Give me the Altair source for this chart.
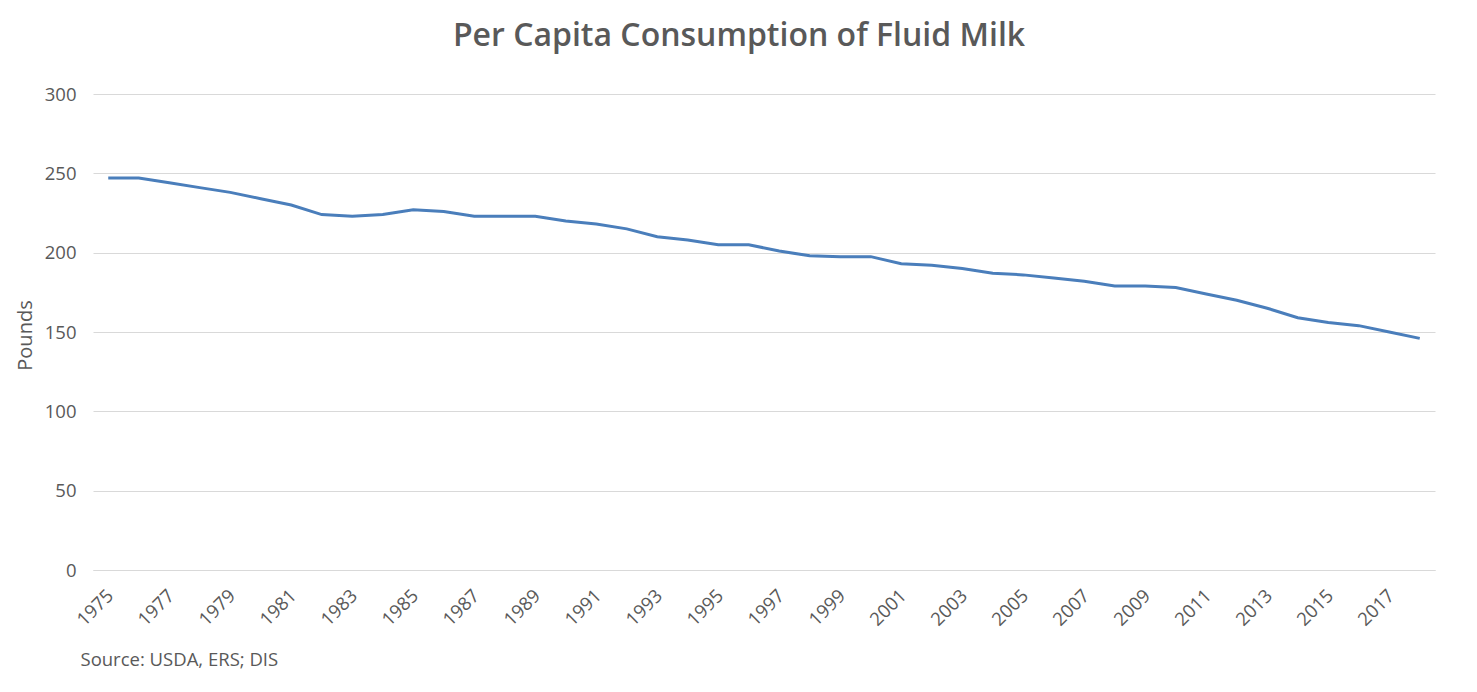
import altair as alt
import pandas as pd

years = list(range(1975, 2019))
pounds = [247, 247, 244, 241, 238, 234, 230, 224, 223, 224,
          227, 226, 223, 223, 223, 220, 218, 215, 210, 208,
          205, 205, 201, 198, 197.5, 197.5, 193, 192, 190, 187,
          186, 184, 182, 179, 179, 178, 174, 170, 165, 159,
          156, 154, 150, 146]
label_years = [str(y) for y in range(1975, 2019, 2)]

df = pd.DataFrame({"year": [str(y) for y in years], "pounds": pounds})

FONT = "Open Sans"
GREY = "#595959"

chart = alt.Chart(df).mark_line(color="#4A7EBB", strokeWidth=3).encode(
    x=alt.X("year:O",
            scale=alt.Scale(type="point", padding=0.5),
            axis=alt.Axis(values=label_years, labelAngle=-45, ticks=False,
                          labelPadding=16, labelOffset=-5, labelFontSize=18.5,
                          labelColor=GREY, labelFont=FONT,
                          domainColor="#d9d9d9", grid=False,
                          title="Source: USDA, ERS; DIS", titleFont=FONT,
                          titleFontSize=18.5, titleFontWeight="normal", titleColor=GREY,
                          titleX=-13, titleY=89, titleAlign="left",
                          titleBaseline="middle", titleAngle=0)),
    y=alt.Y("pounds:Q",
            scale=alt.Scale(domain=[0, 300]),
            axis=alt.Axis(values=[0, 50, 100, 150, 200, 250, 300], ticks=False,
                          domain=False, labelPadding=17, labelFontSize=18.5,
                          labelColor=GREY, labelFont=FONT, gridColor="#d9d9d9",
                          title="Pounds", titleFont=FONT, titleFontSize=20,
                          titleFontWeight="normal", titleColor=GREY,
                          titleX=-68, titleY=241, titleBaseline="middle",
                          titleAngle=-90)),
).properties(
    width=1342,
    height=476,
    autosize=alt.AutoSizeParams(type="none"),
    padding={"left": 85, "top": 86, "right": 25, "bottom": 100},
    title=alt.TitleParams("Per Capita Consumption of Fluid Milk", font=FONT,
                          fontSize=32, fontWeight=600, color=GREY,
                          anchor="middle", frame="group", dx=-25, offset=32),
).configure(background="white").configure_view(stroke=None)

chart.save("out.html", embed_options={"renderer": "svg", "actions": False})
